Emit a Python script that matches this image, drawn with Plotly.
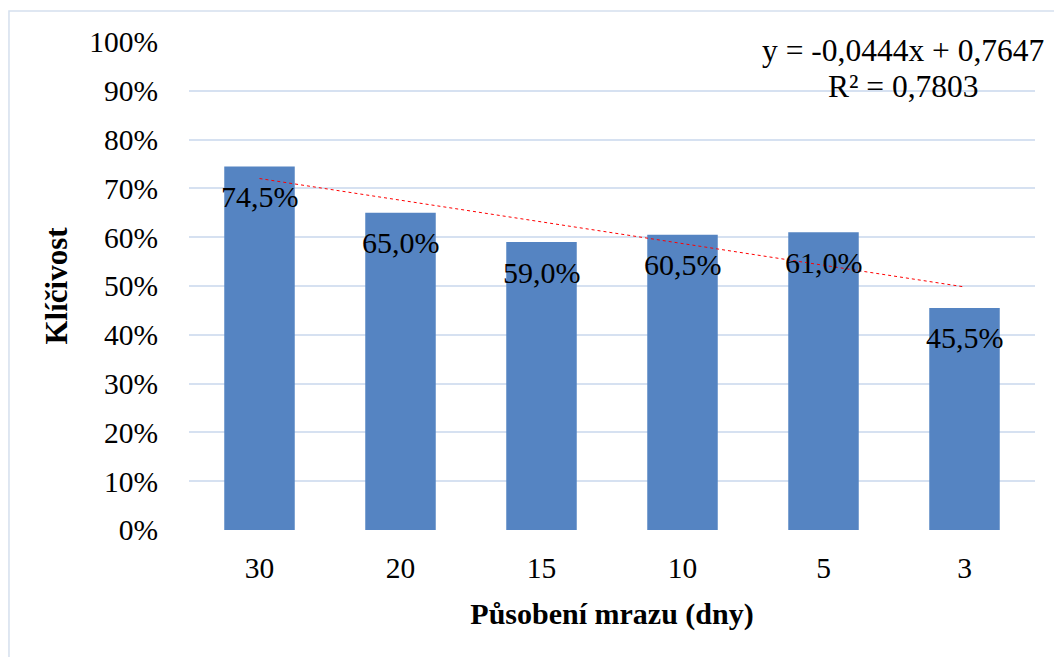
import numpy as np
import plotly.graph_objects as go

categories = ["30", "20", "15", "10", "5", "3"]
values = [0.745, 0.65, 0.59, 0.605, 0.61, 0.455]
labels = ["74,5%", "65,0%", "59,0%", "60,5%", "61,0%", "45,5%"]
y_ticks = [0, 0.1, 0.2, 0.3, 0.4, 0.5, 0.6, 0.7, 0.8, 0.9, 1.0]
y_ticklabels = ["0%", "10%", "20%", "30%", "40%", "50%", "60%", "70%", "80%", "90%", "100%"]

# linear trend (Excel style, x = 1..n)
xi = np.arange(1, len(values) + 1)
slope, intercept = np.polyfit(xi, values, 1)
trend = slope * xi + intercept
ss_res = np.sum((np.array(values) - trend) ** 2)
ss_tot = np.sum((np.array(values) - np.mean(values)) ** 2)
r2 = 1 - ss_res / ss_tot

def cz(v, d=4):
    return f"{v:.{d}f}".replace(".", ",")

eq_line1 = f"y = {cz(slope)}x + {cz(intercept)}"
eq_line2 = f"R² = {cz(r2)}"

FONT = "Liberation Serif"
FS = 29.5

fig = go.Figure()
fig.add_trace(go.Bar(
    x=categories, y=values,
    marker=dict(color="#5584C2", line=dict(width=0)),
    showlegend=False, hoverinfo="skip",
))
fig.add_trace(go.Scatter(
    x=categories, y=trend, mode="lines",
    line=dict(color="#FF0000", width=1, dash="dot"),
    showlegend=False, hoverinfo="skip",
))

for i, (v, t) in enumerate(zip(values, labels)):
    fig.add_annotation(x=i, y=v, text=t, showarrow=False,
                       yanchor="middle", yshift=-30,
                       font=dict(family=FONT, size=30, color="black"))

for txt, yp in [(eq_line1, 0.9826), (eq_line2, 0.9088)]:
    fig.add_annotation(xref="paper", yref="paper", x=0.844, y=yp,
                       text=txt, showarrow=False, align="center",
                       xanchor="center", yanchor="middle",
                       font=dict(family=FONT, size=31.5, color="black"))

fig.add_shape(type="rect", xref="paper", yref="paper",
              x0=-0.2128, x1=1.04, y0=-0.3, y1=1.0635,
              line=dict(color="#D5E0EE", width=1.5), layer="below")

fig.update_layout(
    width=1054, height=657,
    margin=dict(l=189, r=19, t=42, b=127),
    paper_bgcolor="white", plot_bgcolor="white",
    bargap=0.5,
    font=dict(family=FONT, size=FS, color="black"),
    xaxis=dict(
        type="category", range=[-0.5, len(categories) - 0.5],
        tickmode="array", tickvals=categories, ticktext=categories,
        showgrid=False, zeroline=False, showline=False,
        ticks="", ticklabelstandoff=17,
        tickfont=dict(family=FONT, size=FS),
        title=dict(text="<b>Působení mrazu (dny)</b>", standoff=20,
                   font=dict(family=FONT, size=30)),
    ),
    yaxis=dict(
        range=[0, 1.0], tickvals=y_ticks, ticktext=y_ticklabels,
        showgrid=True, gridcolor="#D6E1F1", gridwidth=2,
        zeroline=False, showline=False, ticks="",
        ticklabelstandoff=30,
        tickfont=dict(family=FONT, size=FS),
        title=dict(text="<b>Klíčivost</b>", standoff=12,
                   font=dict(family=FONT, size=31)),
    ),
)

fig.write_html("out.html")
